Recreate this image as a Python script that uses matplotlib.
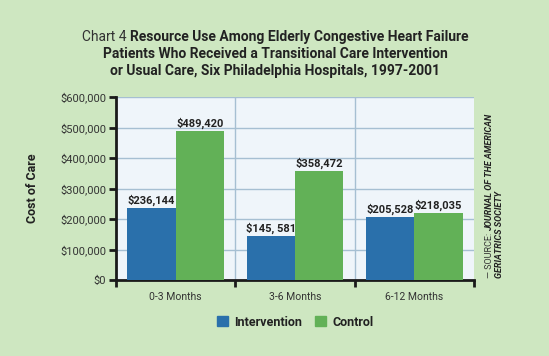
import matplotlib
matplotlib.use('Agg')
import matplotlib.pyplot as plt
import numpy as np
from matplotlib.patches import Patch

plt.rcParams['font.family'] = ['Roboto', 'DejaVu Sans']

# data
periods = ['0-3 Months', '3-6 Months', '6-12 Months']
intervention = [236144, 145581, 205528]
control = [489420, 358472, 218035]
intervention_labels = ['$236,144', '$145, 581', '$205,528']
control_labels = ['$489,420', '$358,472', '$218,035']
y_ticks = [0, 100000, 200000, 300000, 400000, 500000, 600000]
y_tick_labels = ['$0', '$100,000', '$200,000', '$300,000', '$400,000', '$500,000', '$600,000']

bg = '#cee7c1'
plot_bg = '#eff5fa'
grid_c = '#a6bfd2'
blue = '#2a70ab'
green = '#62b157'
txt = '#222222'

W, H = 549, 356
fig = plt.figure(figsize=(W/100, H/100), dpi=100, facecolor=bg)
ax = fig.add_axes([116/W, 76/H, 358/W, 183/H])
ax.set_facecolor(plot_bg)

x = np.arange(len(periods))
w = 0.405
ax.bar(x - w/2, intervention, w, color=blue, zorder=3)
ax.bar(x + w/2, control, w, color=green, zorder=3)

for i in range(len(periods)):
    ax.annotate(intervention_labels[i], (x[i] - w/2, intervention[i]), xytext=(0, 1.5),
                textcoords='offset points', ha='center', va='bottom',
                fontsize=8, fontweight='bold', color=txt, zorder=4)
    ax.annotate(control_labels[i], (x[i] + w/2, control[i]), xytext=(0, 1.5),
                textcoords='offset points', ha='center', va='bottom',
                fontsize=8, fontweight='bold', color=txt, zorder=4)

ax.set_xlim(-0.5, 2.5)
ax.set_ylim(0, 600000)
ax.set_yticks(y_ticks)
ax.set_yticklabels(y_tick_labels, fontsize=8, color='#333333')
ax.yaxis.grid(True, color=grid_c, lw=1)
ax.set_axisbelow(True)
for b in [0.5, 1.5]:
    ax.axvline(b, color=grid_c, lw=1, zorder=1)

ax.set_xticks([-0.5, 0.5, 1.5, 2.5])
ax.set_xticklabels([])
ax.set_xticks(x, minor=True)
ax.set_xticklabels(periods, minor=True, fontsize=7.5, color='#333333')
ax.tick_params(axis='x', which='major', length=5, width=2, color='#1a1a1a')
ax.tick_params(axis='x', which='minor', length=0, pad=9)
ax.tick_params(axis='y', length=5, width=2, color='#1a1a1a', pad=2)

for s in ['top', 'right']:
    ax.spines[s].set_visible(False)
for s in ['left', 'bottom']:
    ax.spines[s].set_linewidth(2)
    ax.spines[s].set_color('#1a1a1a')

fig.text(33/W, 1 - 188/H, 'Cost of Care', rotation=90, ha='center', va='center',
         fontsize=9, fontweight='bold', color=txt)

# title, first line mixed weight
renderer = fig.canvas.get_renderer()
t1 = fig.text(0, 1 - 37/H, 'Chart 4 ', fontsize=10, color='#333333', va='center')
t2 = fig.text(0, 1 - 37/H, 'Resource Use Among Elderly Congestive Heart Failure',
              fontsize=10, fontweight='bold', color=txt, va='center')
w1 = t1.get_window_extent(renderer).width
w2 = t2.get_window_extent(renderer).width
x0 = 275 - (w1 + w2) / 2
t1.set_x(x0 / W)
t2.set_x((x0 + w1) / W)
fig.text(275/W, 1 - 54/H, 'Patients Who Received a Transitional Care Intervention',
         fontsize=10, fontweight='bold', color=txt, ha='center', va='center')
fig.text(275/W, 1 - 71/H, 'or Usual Care, Six Philadelphia Hospitals, 1997-2001',
         fontsize=10, fontweight='bold', color=txt, ha='center', va='center')

# source, rotated
s1 = fig.text(490/W, 1 - 278/H, '\u2014 SOURCE: ', rotation=90, ha='center', va='bottom',
              fontsize=6.5, color='#333333')
h1 = s1.get_window_extent(renderer).height
fig.text(490/W, 1 - (278 - h1)/H, 'JOURNAL OF THE AMERICAN', rotation=90, ha='center',
         va='bottom', fontsize=6.5, fontweight='bold', style='italic', color=txt)
fig.text(499/W, 1 - 278/H, 'GERIATRICS SOCIETY', rotation=90, ha='center', va='bottom',
         fontsize=6.5, fontweight='bold', style='italic', color=txt)

handles = [Patch(color=blue, label='Intervention'), Patch(color=green, label='Control')]
fig.legend(handles=handles, loc='center', bbox_to_anchor=(295/W, 1 - 322/H), ncol=2,
           frameon=False, prop={'weight': 'bold', 'size': 9}, handlelength=0.9,
           handleheight=0.9, handletextpad=0.5, columnspacing=1.0, labelcolor=txt)

fig.savefig('out.png', dpi=100, facecolor=bg)
